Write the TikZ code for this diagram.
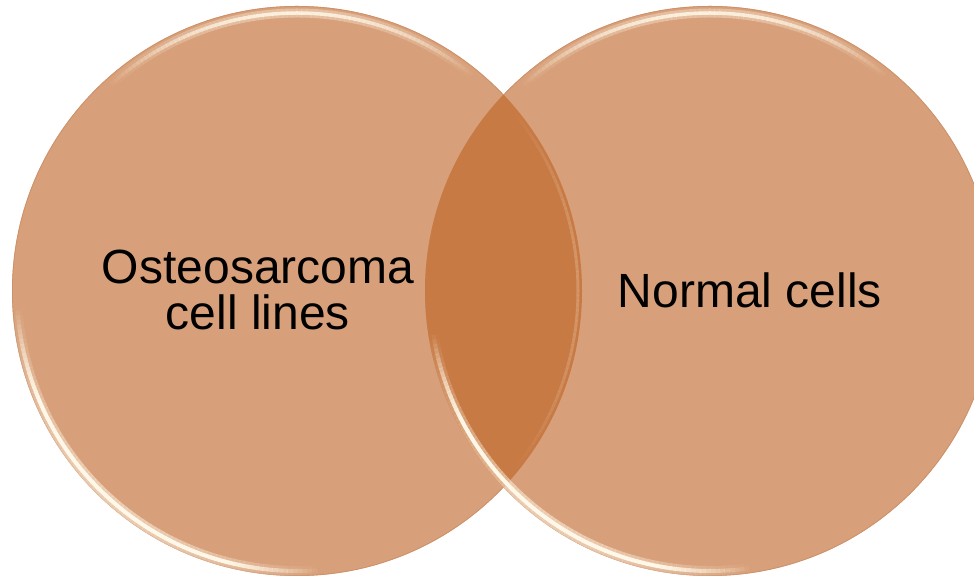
\documentclass[tikz,border=0pt]{standalone}
\usepackage{fontspec}
\setmainfont{Liberation Sans}
\definecolor{disc}{RGB}{216,160,122}
\definecolor{lens}{RGB}{200,122,68}
\definecolor{glowc}{RGB}{255,248,232}
\definecolor{rimc}{RGB}{205,145,105}
\tikzset{
  discfill/.style={fill=disc},
  lensfill/.style={fill=lens},
  label/.style={font=\fontsize{48}{46}\selectfont, align=center, inner sep=0pt, text=black},
}
\newcommand\rimglow[6]{% center, radius, start, end, peak, width
  \foreach \a in {#3,...,#4}{%
    \pgfmathsetmacro\op{min(1,#5*sin(180*(\a-#3)/(#4-#3)))}%
    \draw[glowc, line width=#6, draw opacity=\op] (#1) ++(\a:#2) arc[start angle=\a, end angle=\a+1.05, radius=#2];
  }%
}
\begin{document}
\begin{tikzpicture}[x=1pt,y=1pt]
\useasboundingbox (0,0) rectangle (974,577);
\clip (0,0) rectangle (974,577);
\coordinate (L) at (297,286);
\coordinate (R) at (710,286);
% discs
\fill[discfill] (L) circle[radius=285];
\draw[rimc, line width=0.8] (L) circle[radius=284.6];
\fill[discfill] (R) circle[radius=285];
\draw[rimc, line width=0.8] (R) circle[radius=284.6];
% overlap
\begin{scope}
  \clip (L) circle[radius=285];
  \fill[lensfill] (R) circle[radius=285];
\end{scope}
% rim highlights, left disc
\rimglow{L}{280}{183}{274}{0.5}{10}
\rimglow{L}{280}{183}{274}{1.6}{4}
\rimglow{L}{278}{50}{132}{0.35}{9}
\rimglow{L}{278}{50}{132}{0.85}{3.5}
\rimglow{L}{281}{-40}{40}{0.2}{3}
% rim highlights, right disc
\rimglow{R}{280}{188}{278}{0.5}{10}
\rimglow{R}{280}{188}{278}{1.6}{4}
\rimglow{R}{278}{50}{132}{0.35}{9}
\rimglow{R}{278}{50}{132}{0.85}{3.5}
% labels
\node[label] (osteo) at (258,287) {Osteosarcoma\\cell lines};
\node[label] (normal) at (750,287) {Normal cells};
\end{tikzpicture}
\end{document}
